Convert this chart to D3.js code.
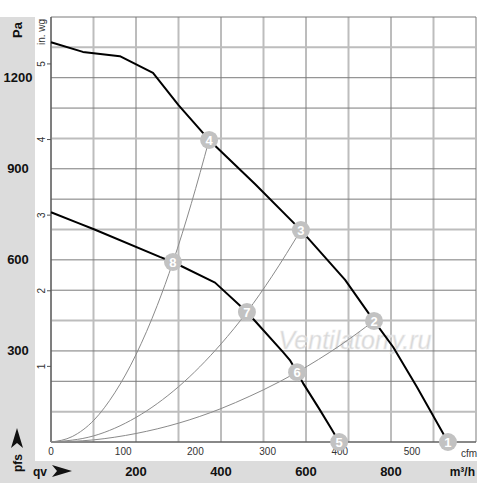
<!DOCTYPE html>
<html><head><meta charset="utf-8">
<script src="https://cdn.jsdelivr.net/npm/d3@7"></script>
<style>body{margin:0;background:#fff}svg{display:block}</style>
</head><body>
<script>
// ---- data (q in m³/h, p in Pa) ----
const upperQ = [0, 75, 162, 240, 300, 372, 480, 588, 692, 760, 805, 861, 934];
const upperP = [1317, 1285, 1271, 1216, 1110, 995, 850, 698, 534, 399, 313, 181, 0];
const lowerQ = [0, 63, 101, 256, 287, 386, 461, 478, 546, 562, 579, 593, 633, 661, 678];
const lowerP = [757, 722, 701, 610, 593, 525, 428, 402, 296, 270, 230, 194, 105, 40, 0];
const sysAQ = [0, 50, 101, 150, 200, 250, 287, 330, 372];
const sysAP = [0, 18, 72, 162, 288, 450, 593, 785, 995];
const sysBQ = [0, 100, 200, 300, 400, 461, 520, 588];
const sysBP = [0, 20, 81, 182, 323, 428, 546, 698];
const sysCQ = [0, 100, 200, 300, 400, 468, 500, 579, 680, 760];
const sysCP = [0, 7, 28, 62, 110, 151, 172, 230, 318, 399];
const markerQ = [934, 760, 588, 372, 678, 579, 461, 287];
const markerP = [0, 399, 698, 995, 0, 230, 428, 593];
const markerLabel = ["1","2","3","4","5","6","7","8"];
const paTicks = [300, 600, 900, 1200];
const m3hTicks = [200, 400, 600, 800];
const inwgTicks = [1, 2, 3, 4, 5];
const cfmTicks = [0, 100, 200, 300, 400, 500];
const PA_PER_INWG = 249.09, M3H_PER_CFM = 1.699;

const W = 500, H = 483;
const svg = d3.select("body").append("svg").attr("width", W).attr("height", H);
const x = d3.scaleLinear().domain([0, 1000]).range([51, 476]);
const y = d3.scaleLinear().domain([0, 1400]).range([442, 17]);
const font = "Liberation Sans, Arial, sans-serif";

// gray frame
svg.append("rect").attr("x", 0).attr("y", 17).attr("width", 35).attr("height", H - 17).attr("fill", "#dcdcdc");
svg.append("rect").attr("x", 0).attr("y", 461).attr("width", 477).attr("height", 22).attr("fill", "#dcdcdc");

// grid
const g = svg.append("g");
d3.range(0, 1001, 100).forEach(v => {
  const light = (v / 100) % 2 === 1 || v === 1000;
  g.append("line").attr("x1", x(v)).attr("x2", x(v)).attr("y1", y(0)).attr("y2", y(1400))
    .attr("stroke", light ? "#bdbdbd" : "#7a7a7a").attr("stroke-width", light ? 2 : 1);
});
d3.range(0, 1401, 100).forEach(v => {
  const light = (v / 100) % 3 === 1;
  g.append("line").attr("x1", x(0)).attr("x2", x(1000)).attr("y1", y(v)).attr("y2", y(v))
    .attr("stroke", light ? "#bdbdbd" : "#7a7a7a").attr("stroke-width", light ? 2 : 1);
});
// axis lines
g.append("line").attr("x1", x(0)).attr("x2", x(0)).attr("y1", y(0)).attr("y2", y(1400)).attr("stroke", "#555").attr("stroke-width", 1.2);
g.append("line").attr("x1", x(0)).attr("x2", x(1000)).attr("y1", y(0)).attr("y2", y(0)).attr("stroke", "#555").attr("stroke-width", 1.2);

// watermark
svg.append("text").attr("x", 355).attr("y", 349).attr("text-anchor", "middle")
  .attr("font-family", font).attr("font-style", "italic").attr("font-size", 25)
  .attr("fill", "#d3d3d3").attr("stroke", "#ededed").attr("stroke-width", 0.6).attr("opacity", 0.9)
  .text("Ventilatorry.ru");

// system curves
const line = d3.line().x(d => x(d[0])).y(d => y(d[1])).curve(d3.curveMonotoneX);
[[sysAQ, sysAP], [sysBQ, sysBP], [sysCQ, sysCP]].forEach(([qs, ps]) => {
  svg.append("path").datum(qs.map((q, i) => [q, ps[i]])).attr("d", line)
    .attr("fill", "none").attr("stroke", "#8a8a8a").attr("stroke-width", 1);
});
// fan curves
const fline = d3.line().x(d => x(d[0])).y(d => y(d[1])).curve(d3.curveLinear);
[[upperQ, upperP], [lowerQ, lowerP]].forEach(([qs, ps]) => {
  svg.append("path").datum(qs.map((q, i) => [q, ps[i]])).attr("d", fline)
    .attr("fill", "none").attr("stroke", "#000").attr("stroke-width", 2).attr("stroke-linejoin", "round");
});

// left Pa labels
svg.append("text").attr("transform", `translate(22,30) rotate(-90)`).attr("text-anchor", "middle")
  .attr("font-family", font).attr("font-weight", "bold").attr("font-size", 13).attr("fill", "#111").text("Pa");
paTicks.forEach(v => {
  svg.append("text").attr("x", 18).attr("y", y(v)).attr("dy", "0.32em").attr("text-anchor", "middle")
    .attr("font-family", font).attr("font-weight", "bold").attr("font-size", 13).attr("fill", "#111").text(v);
});
// pfs label
svg.append("text").attr("transform", `translate(22,463) rotate(-90)`).attr("text-anchor", "middle")
  .attr("font-family", font).attr("font-weight", "bold").attr("font-size", 12).attr("fill", "#111").text("pfs");
svg.append("path").attr("d", "M17,428 L23,448 L17,443 L11,448 Z").attr("fill", "#111");
// qv label
svg.append("text").attr("x", 33).attr("y", 476).attr("font-family", font).attr("font-weight", "bold")
  .attr("font-size", 12).attr("fill", "#111").text("qv");
svg.append("path").attr("d", "M72,471 L52,465 L57,471 L52,477 Z").attr("fill", "#111");
m3hTicks.forEach(v => {
  svg.append("text").attr("x", x(v)).attr("y", 476).attr("text-anchor", "middle")
    .attr("font-family", font).attr("font-weight", "bold").attr("font-size", 13).attr("fill", "#111").text(v);
});
svg.append("text").attr("x", 475).attr("y", 476).attr("text-anchor", "end")
  .attr("font-family", font).attr("font-weight", "bold").attr("font-size", 12).attr("fill", "#111").text("m³/h");

// in. wg axis
svg.append("text").attr("transform", `translate(45,32) rotate(-90)`).attr("text-anchor", "middle")
  .attr("font-family", font).attr("font-size", 10).attr("fill", "#333").text("in. wg");
inwgTicks.forEach(v => {
  const yy = y(v * PA_PER_INWG);
  svg.append("line").attr("x1", 47).attr("x2", 51).attr("y1", yy).attr("y2", yy).attr("stroke", "#555");
  svg.append("text").attr("transform", `translate(45,${yy}) rotate(-90)`).attr("text-anchor", "middle")
    .attr("font-family", font).attr("font-size", 10).attr("fill", "#333").text(v);
});
// cfm axis
cfmTicks.forEach(v => {
  svg.append("text").attr("x", x(v * M3H_PER_CFM)).attr("y", 455).attr("text-anchor", "middle")
    .attr("font-family", font).attr("font-size", 10).attr("fill", "#333").text(v);
});
svg.append("text").attr("x", 461).attr("y", 457).attr("text-anchor", "start")
  .attr("font-family", font).attr("font-size", 10).attr("fill", "#333").text("cfm");

// markers
markerQ.forEach((q, i) => {
  const gg = svg.append("g").attr("transform", `translate(${x(q)},${y(markerP[i])})`);
  gg.append("circle").attr("r", 9).attr("fill", "#c2c2c2");
  gg.append("text").attr("text-anchor", "middle").attr("dy", "0.36em")
    .attr("font-family", font).attr("font-weight", "bold").attr("font-size", 13).attr("fill", "#fff").text(markerLabel[i]);
});
</script>
</body></html>
